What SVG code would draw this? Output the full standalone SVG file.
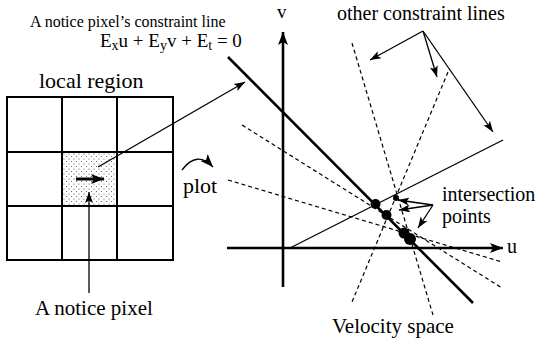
<svg xmlns="http://www.w3.org/2000/svg" width="542" height="343" viewBox="0 0 542 343" font-family="'Liberation Serif', 'DejaVu Serif', serif">
<style>
text{font-family:'Liberation Serif','DejaVu Serif',serif;fill:#000}
.grid{fill:none;stroke:#000;stroke-width:2}
.thin{stroke:#000;stroke-width:1.3;fill:none}
.dash{stroke:#000;stroke-width:1.2;stroke-dasharray:4 3;fill:none}
.thick{stroke:#000;stroke-width:2.6;fill:none}
.ptr{stroke:#000;stroke-width:1.3;fill:none;marker-end:url(#ah)}
.dot{fill:#000}
</style>
<defs>
<marker id="ah" markerUnits="userSpaceOnUse" markerWidth="12" markerHeight="10" refX="11" refY="5" orient="auto">
<path d="M0,1 L11,5 L0,9 L2.5,5 Z" fill="#000"/>
</marker>
<marker id="ahb" markerUnits="userSpaceOnUse" markerWidth="14" markerHeight="12" refX="13" refY="6" orient="auto">
<path d="M0,1 L13,6 L0,11 L3,6 Z" fill="#000"/>
</marker>
<pattern id="dots" width="5" height="5" patternUnits="userSpaceOnUse">
<rect width="5" height="5" fill="#fff"/>
<circle cx="1.5" cy="1.5" r="0.6" fill="#555"/>
<circle cx="4" cy="4" r="0.6" fill="#555"/>
</pattern>
</defs>
<rect width="542" height="343" fill="#fff"/>

<g id="local-region">
<rect x="62" y="152" width="55" height="54" fill="url(#dots)"/>
<rect class="grid" x="7" y="97" width="166" height="163"/>
<line class="grid" x1="62" y1="97" x2="62" y2="260"/>
<line class="grid" x1="117" y1="97" x2="117" y2="260"/>
<line class="grid" x1="7" y1="152" x2="173" y2="152"/>
<line class="grid" x1="7" y1="206" x2="173" y2="206"/>
<line x1="76" y1="179" x2="104" y2="179" stroke="#000" stroke-width="3" marker-end="url(#ahb)"/>
<text x="39" y="88" font-size="22">local region</text>
</g>

<g id="notice-pixel-label">
<text x="35" y="315" font-size="21">A notice pixel</text>
</g>

<g id="constraint-label">
<text x="30" y="27" font-size="16">A notice pixel’s constraint line</text>
<text x="100" y="47" font-size="19">E<tspan font-size="14" dy="3">x</tspan><tspan dy="-3">u + E</tspan><tspan font-size="14" dy="3">y</tspan><tspan dy="-3">v + E</tspan><tspan font-size="14" dy="3">t</tspan><tspan dy="-3"> = 0</tspan></text>
</g>

<g id="plot">
<path d="M182,170 Q197,150 213,167" class="thin" stroke-width="2.4" marker-end="url(#ahb)"/>
<text x="183" y="193" font-size="22">plot</text>
</g>

<g id="velocity-space">
<line class="thick" x1="283" y1="287" x2="283" y2="32" stroke-width="2.2" marker-end="url(#ahb)"/>
<line class="thick" x1="227" y1="248" x2="503" y2="248" stroke-width="2.2" marker-end="url(#ahb)"/>
<text x="277" y="18" font-size="19">v</text>
<text x="507" y="253" font-size="20">u</text>
<line class="thick" x1="228" y1="57" x2="473" y2="303"/>
<line class="thin" x1="290" y1="248" x2="503" y2="140"/>
<line class="dash" x1="242" y1="125" x2="502" y2="288"/>
<line class="dash" x1="228" y1="180" x2="502" y2="262"/>
<line class="dash" x1="352" y1="43" x2="433" y2="315"/>
<line class="dash" x1="448" y1="72" x2="352" y2="302"/>
<circle class="dot" cx="375.5" cy="204" r="5"/>
<circle class="dot" cx="386.5" cy="215" r="5"/>
<circle class="dot" cx="404" cy="233" r="5.5"/>
<circle class="dot" cx="410" cy="239" r="6"/>
<circle class="dot" cx="396" cy="198" r="3"/>
<text x="332" y="333" font-size="21">Velocity space</text>
</g>

<g id="other-lines-label">
<text x="337" y="20" font-size="20">other constraint lines</text>
</g>

<g id="intersection-label">
<text x="442" y="201" font-size="20">intersection</text>
<text x="442" y="223" font-size="20">points</text>
</g>

<g id="connectors">
<line class="ptr" x1="98" y1="167" x2="245" y2="82"/>
<line class="ptr" x1="89" y1="293" x2="89" y2="192"/>
<line class="ptr" x1="423" y1="31" x2="370" y2="60"/>
<line class="ptr" x1="423" y1="31" x2="437" y2="77"/>
<line class="ptr" x1="423" y1="31" x2="493" y2="132"/>
<line class="ptr" x1="433" y1="205" x2="398" y2="200" stroke-width="2"/>
<line class="ptr" x1="433" y1="205" x2="399" y2="210" stroke-width="2"/>
<line class="ptr" x1="433" y1="205" x2="418" y2="228" stroke-width="2"/>
</g>
</svg>
